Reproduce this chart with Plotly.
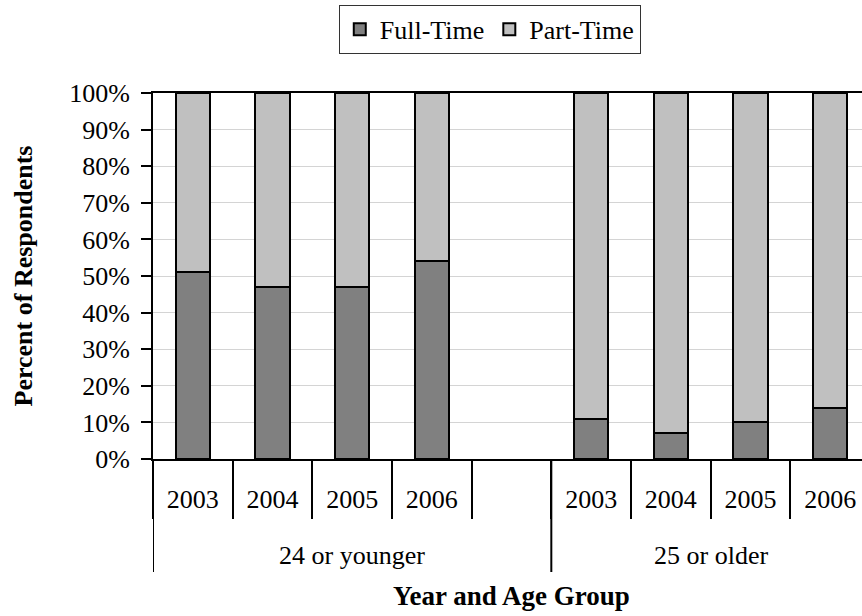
import plotly.graph_objects as go

categories = ["y24_2003", "y24_2004", "y24_2005", "y24_2006", "gap",
              "o25_2003", "o25_2004", "o25_2005", "o25_2006"]
tick_labels = ["2003", "2004", "2005", "2006", " ", "2003", "2004", "2005", "2006"]
groups = ["24 or younger", "25 or older"]
full_time = [51, 47, 47, 54, None, 11, 7, 10, 14]
part_time = [49, 53, 53, 46, None, 89, 93, 90, 86]

FONT = "Liberation Serif"
FS = 26

fig = go.Figure()
fig.add_trace(go.Bar(x=categories, y=full_time, name="Full-Time",
                     marker=dict(color="#808080", line=dict(color="black", width=2)),
                     width=0.43))
fig.add_trace(go.Bar(x=categories, y=part_time, name="Part-Time",
                     marker=dict(color="#c0c0c0", line=dict(color="black", width=2)),
                     width=0.43))

H = 366.0
def py(px_below):
    return -px_below / H

shapes = []
for xv in (-0.5, 4.5):
    shapes.append(dict(type="line", xref="x", yref="paper", x0=xv, x1=xv,
                       y0=0, y1=py(113), line=dict(color="black", width=2)))

annotations = [
    dict(text=groups[0], xref="x", yref="paper", x=2, y=py(96), yanchor="middle",
         showarrow=False, font=dict(family=FONT, size=FS, color="black")),
    dict(text=groups[1], xref="x", yref="paper", x=6.5, y=py(96), yanchor="middle",
         showarrow=False, font=dict(family=FONT, size=FS, color="black")),
    dict(text="<b>Year and Age Group</b>", xref="x", yref="paper", x=4, y=py(137),
         yanchor="middle", showarrow=False, font=dict(family=FONT, size=27, color="black")),
]

fig.update_layout(
    width=862, height=616,
    margin=dict(l=153, r=0, t=93, b=157, autoexpand=False),
    barmode="stack",
    plot_bgcolor="white", paper_bgcolor="white",
    font=dict(family=FONT, size=FS, color="black"),
    legend=dict(orientation="h", x=0.475, xanchor="center", y=1.174, yanchor="middle",
                bordercolor="#333333", borderwidth=1, font=dict(family=FONT, size=FS),
                traceorder="normal", itemwidth=30),
    shapes=shapes,
    annotations=annotations,
    xaxis=dict(type="category", categoryorder="array", categoryarray=categories,
               tickmode="array", tickvals=categories, ticktext=tick_labels,
               range=[-0.5, 8.4], showline=True, linecolor="black", linewidth=2,
               mirror=True, ticks="outside", tickson="boundaries", ticklen=58,
               tickwidth=2, tickcolor="black", showgrid=False, automargin=False,
               ticklabelstandoff=16, tickfont=dict(family=FONT, size=FS)),
    yaxis=dict(range=[0, 100], dtick=10, ticksuffix="%", ticks="outside", ticklen=10,
               tickwidth=2, tickcolor="black", showline=True, linecolor="black",
               linewidth=2, gridcolor="#d4d4d4", gridwidth=1, zeroline=False,
               automargin=False,
               ticklabelstandoff=6, tickfont=dict(family=FONT, size=FS),
               title=dict(text="<b>Percent of Respondents</b>", standoff=29,
                          font=dict(family=FONT, size=FS))),
)

fig.write_html("out.html", config={"displayModeBar": False},
               post_script="document.body.style.margin='0';document.body.style.overflow='hidden';")
